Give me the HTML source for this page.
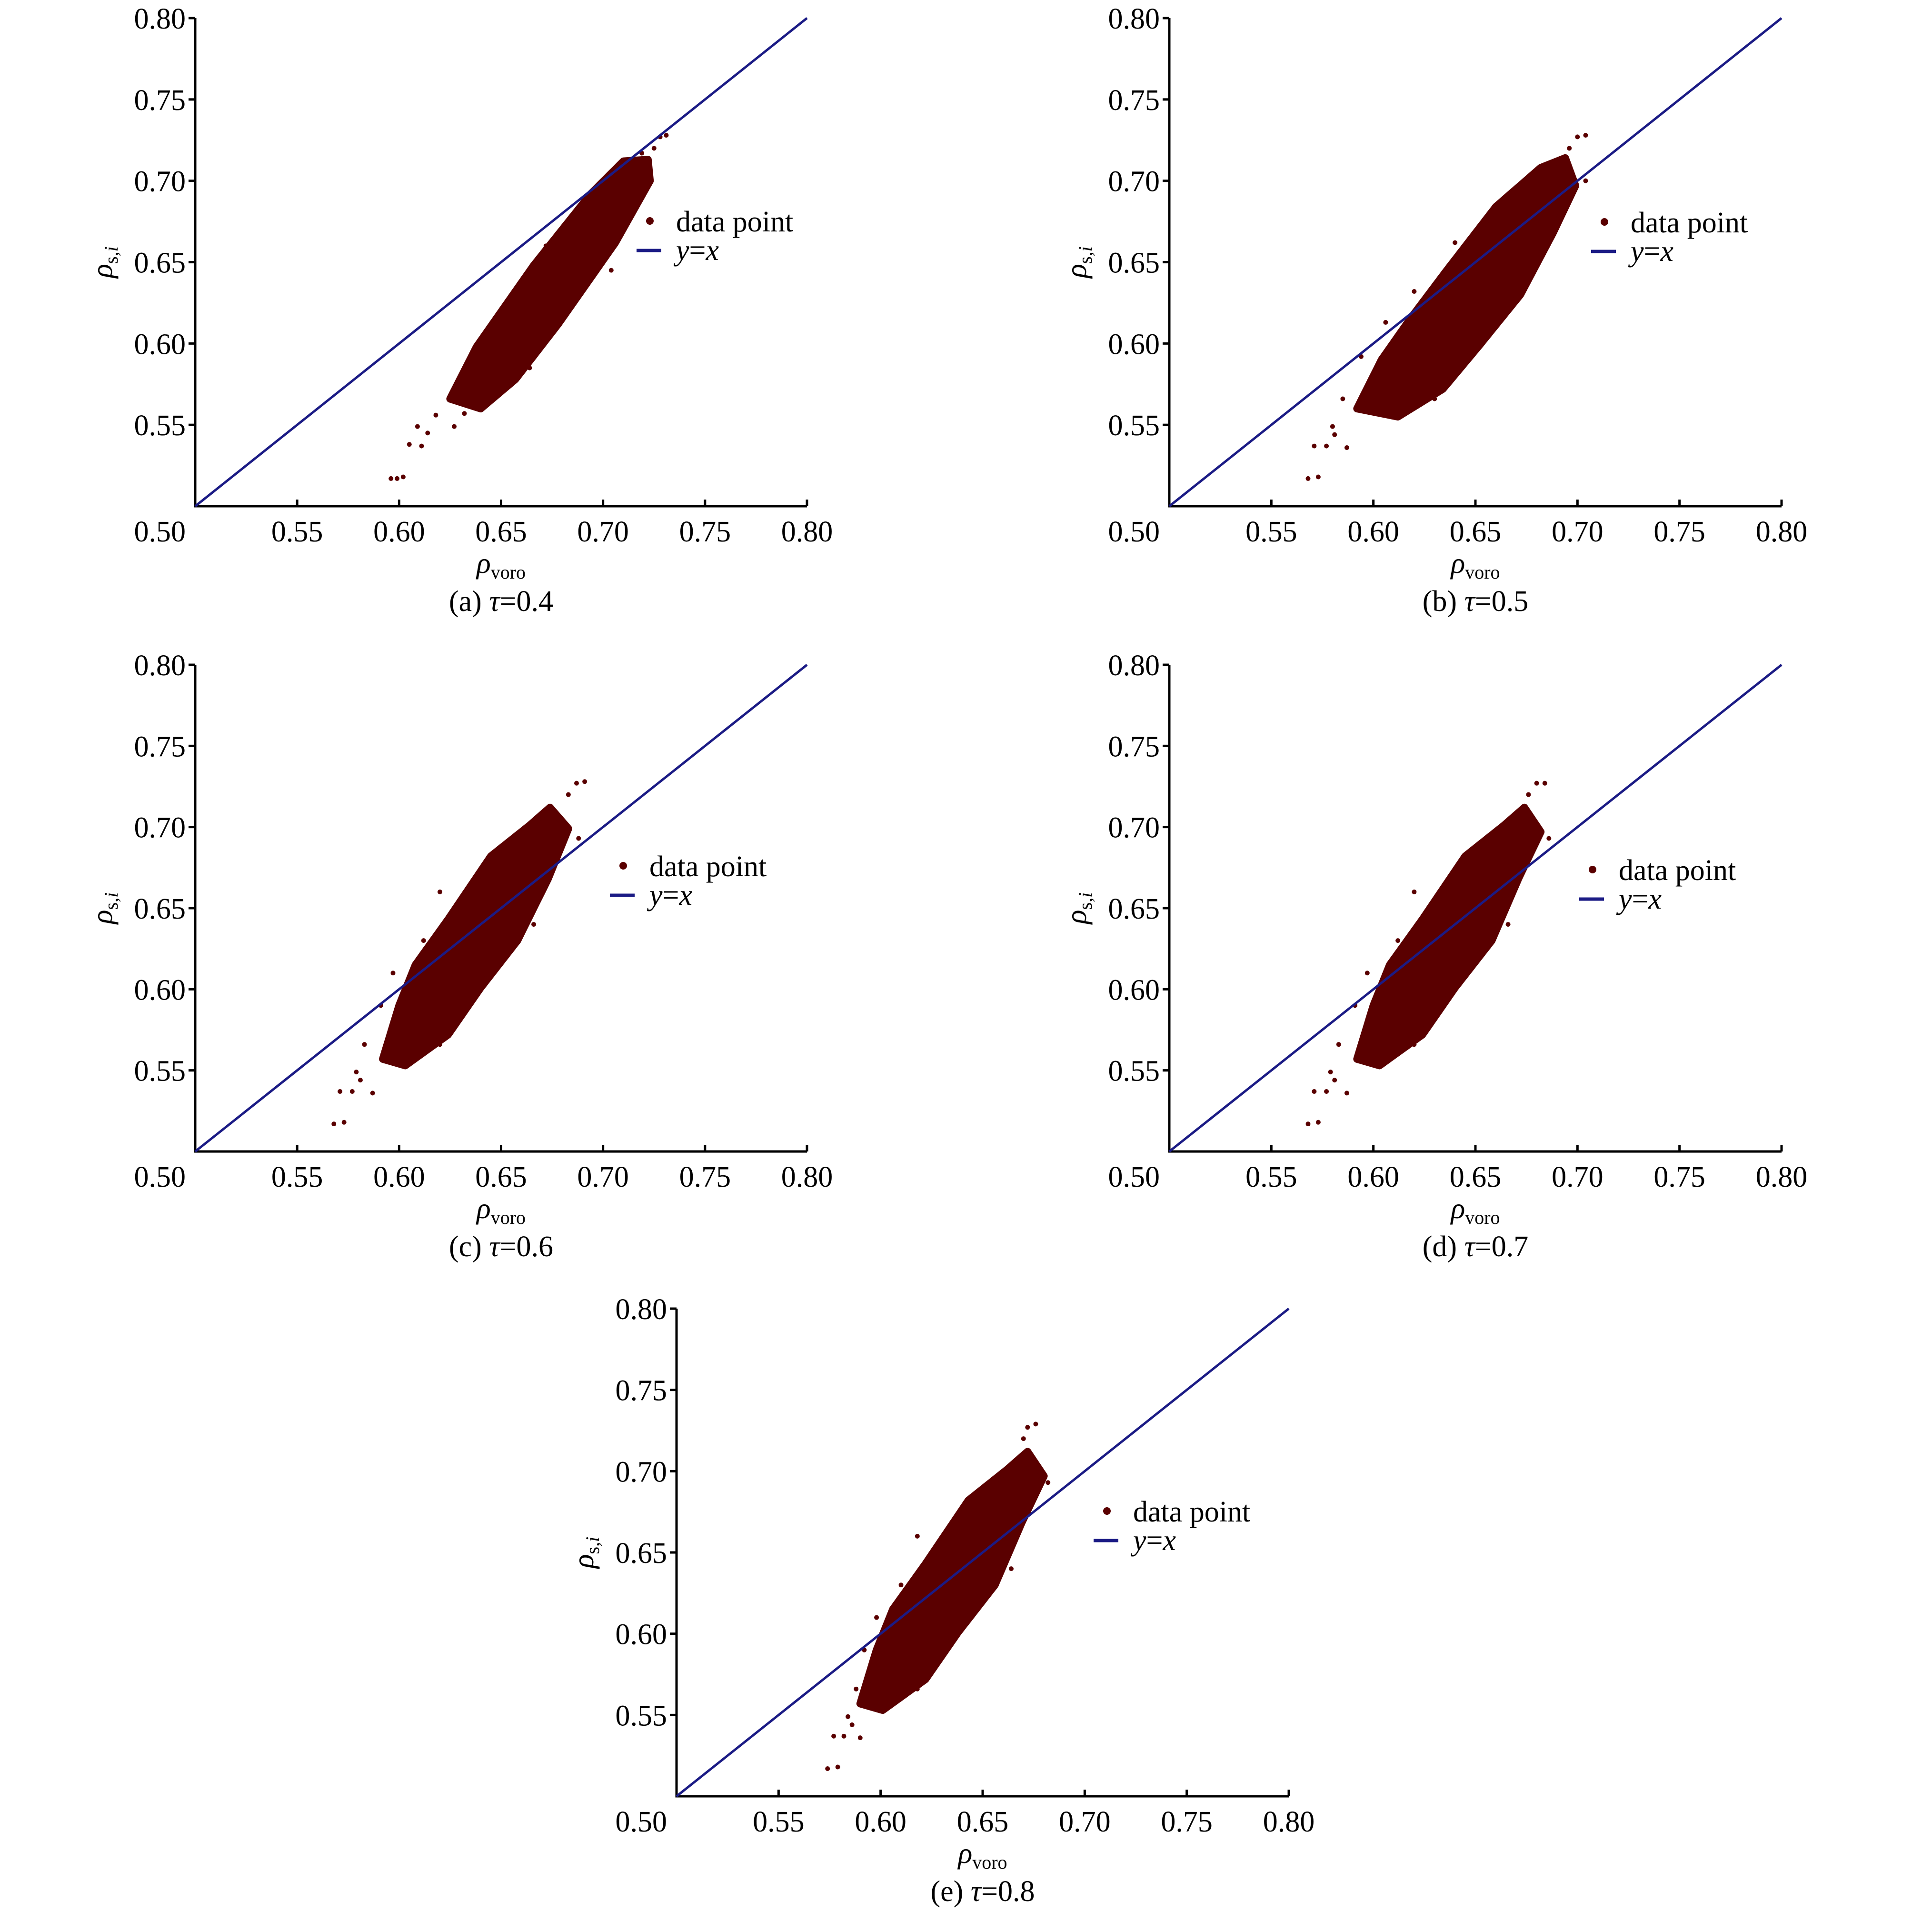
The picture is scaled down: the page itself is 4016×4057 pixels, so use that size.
<!DOCTYPE html>
<html><head><meta charset="utf-8"><style>
html,body{margin:0;padding:0;background:#fff;}
svg{display:block;}
text{font-family:"Liberation Serif",serif;fill:#000;}
</style></head><body>
<svg id="fig" width="4016" height="4057" viewBox="0 0 4016 4057" xmlns="http://www.w3.org/2000/svg"></svg>
<script>
const xTicks=[0.50,0.55,0.60,0.65,0.70,0.75,0.80];
const yTicks=[0.55,0.60,0.65,0.70,0.75,0.80];
const tickLabels=["0.50","0.55","0.60","0.65","0.70","0.75","0.80"];
const captions=["(a) ","(b) ","(c) ","(d) ","(e) "];
const tauValues=["0.4","0.5","0.6","0.7","0.8"];
const hullA=[[0.625,0.566],[0.638,0.598],[0.666,0.648],[0.694,0.692],[0.710,0.712],[0.722,0.713],[0.723,0.700],[0.706,0.662],[0.678,0.612],[0.657,0.578],[0.640,0.560]];
const outA=[[0.596,0.517],[0.599,0.517],[0.602,0.518],[0.605,0.538],[0.611,0.537],[0.609,0.549],[0.614,0.545],[0.618,0.556],[0.627,0.549],[0.632,0.557],[0.728,0.727],[0.731,0.728],[0.725,0.720],[0.719,0.717],[0.636,0.575],[0.650,0.610],[0.664,0.585],[0.704,0.645],[0.672,0.660],[0.640,0.595]];
const hullB=[[0.592,0.560],[0.604,0.590],[0.618,0.615],[0.636,0.645],[0.660,0.684],[0.682,0.708],[0.694,0.714],[0.699,0.697],[0.688,0.668],[0.672,0.630],[0.652,0.599],[0.634,0.572],[0.612,0.555]];
const outB=[[0.568,0.517],[0.573,0.518],[0.571,0.537],[0.577,0.537],[0.581,0.544],[0.587,0.536],[0.580,0.549],[0.585,0.566],[0.594,0.592],[0.606,0.613],[0.704,0.728],[0.700,0.727],[0.696,0.720],[0.704,0.700],[0.630,0.566],[0.640,0.662],[0.620,0.632],[0.676,0.650]];
const hullC=[[0.592,0.557],[0.600,0.590],[0.608,0.615],[0.624,0.643],[0.645,0.682],[0.664,0.701],[0.674,0.712],[0.683,0.699],[0.673,0.668],[0.658,0.630],[0.640,0.601],[0.624,0.572],[0.603,0.553]];
const outC=[[0.568,0.517],[0.573,0.518],[0.571,0.537],[0.577,0.537],[0.581,0.544],[0.587,0.536],[0.579,0.549],[0.583,0.566],[0.591,0.590],[0.597,0.610],[0.691,0.728],[0.687,0.727],[0.683,0.720],[0.688,0.693],[0.620,0.566],[0.620,0.660],[0.612,0.630],[0.666,0.640]];
const hullD=[[0.592,0.557],[0.600,0.590],[0.608,0.615],[0.624,0.643],[0.645,0.682],[0.664,0.701],[0.674,0.712],[0.682,0.697],[0.671,0.668],[0.658,0.630],[0.640,0.601],[0.624,0.572],[0.603,0.553]];
const outD=[[0.568,0.517],[0.573,0.518],[0.571,0.537],[0.577,0.537],[0.581,0.544],[0.587,0.536],[0.579,0.549],[0.583,0.566],[0.591,0.590],[0.597,0.610],[0.684,0.727],[0.680,0.727],[0.676,0.720],[0.686,0.693],[0.620,0.566],[0.620,0.660],[0.612,0.630],[0.666,0.640]];
const hullE=[[0.590,0.557],[0.598,0.590],[0.606,0.615],[0.622,0.643],[0.643,0.682],[0.662,0.701],[0.672,0.712],[0.680,0.697],[0.669,0.668],[0.656,0.630],[0.638,0.601],[0.622,0.572],[0.601,0.553]];
const outE=[[0.574,0.517],[0.579,0.518],[0.577,0.537],[0.582,0.537],[0.586,0.544],[0.590,0.536],[0.584,0.549],[0.588,0.566],[0.592,0.590],[0.598,0.610],[0.676,0.729],[0.672,0.727],[0.670,0.720],[0.682,0.693],[0.618,0.566],[0.618,0.660],[0.610,0.630],[0.664,0.640]];
const hulls=[hullA,hullB,hullC,hullD,hullE];
const outliers=[outA,outB,outC,outD,outE];
const lineStart=[0.5,0.5], lineEnd=[0.8,0.8];

const layout=[
 {x0:410,x1:1695,yb:1063,yt:38,lx:1365,ly:464},
 {x0:2456,x1:3742,yb:1063,yt:38,lx:3370,ly:466},
 {x0:410,x1:1695,yb:2418,yt:1396,lx:1309,ly:1818},
 {x0:2456,x1:3742,yb:2418,yt:1396,lx:3345,ly:1826},
 {x0:1421,x1:2707,yb:3772,yt:2748,lx:2325,ly:3173}
];
const NS="http://www.w3.org/2000/svg";
const svg=document.getElementById('fig');
function mk(tag,attrs,parent){const e=document.createElementNS(NS,tag);for(const k in attrs)e.setAttribute(k,attrs[k]);parent.appendChild(e);return e;}
const dark="#5a0000", navy="#1b1b85";
const FS=62;
layout.forEach((L,i)=>{
  const g=mk('g',{},svg);
  
  
  const sx=v=>L.x0+(v-0.5)/0.3*(L.x1-L.x0);
  const sy=v=>L.yb-(v-0.5)/0.3*(L.yb-L.yt);
  const ax=mk('path',{d:`M${L.x0},${L.yt} L${L.x0},${L.yb} L${L.x1},${L.yb}`,fill:'none',stroke:'#000','stroke-width':5},g);
  
  
  yTicks.forEach(t=>{mk('line',{x1:L.x0-14,x2:L.x0,y1:sy(t),y2:sy(t),stroke:'#000','stroke-width':5},g);});
  xTicks.forEach(t=>{if(t>0.5)mk('line',{x1:sx(t),x2:sx(t),y1:L.yb-14,y2:L.yb,stroke:'#000','stroke-width':5},g);});
  yTicks.forEach(t=>{const tx=mk('text',{x:L.x0-20,y:sy(t)+22,'text-anchor':'end','font-size':FS},g);tx.textContent=tickLabels[xTicks.indexOf(t)];
    
    });
  xTicks.forEach((t,j)=>{const tx=mk('text',{x:t===0.5?sx(t)-20:sx(t),y:L.yb+74,'text-anchor':t===0.5?'end':'middle','font-size':FS},g);tx.textContent=tickLabels[j];
    
    });
  const mx=(L.x0+L.x1)/2, my=(L.yb+L.yt)/2;
  const xl=mk('text',{x:mx,y:L.yb+140,'text-anchor':'middle','font-size':FS},g);
  
  
  xl.innerHTML='<tspan font-style="italic">ρ</tspan><tspan font-size="40" dy="12">voro</tspan>';
  const yl=mk('text',{x:0,y:0,'text-anchor':'middle','font-size':FS,transform:`translate(${L.x0-175},${my}) rotate(-90)`},g);
  
  
  yl.innerHTML='<tspan font-style="italic">ρ</tspan><tspan font-size="40" dy="12">s,</tspan><tspan font-size="40" font-style="italic">i</tspan>';
  const cap=mk('text',{x:mx,y:L.yb+220,'text-anchor':'middle','font-size':FS},g);
  
  
  cap.innerHTML=captions[i]+'<tspan font-style="italic">τ</tspan>='+tauValues[i];
  const hp=mk('polygon',{points:hulls[i].map(p=>sx(p[0])+','+sy(p[1])).join(' '),fill:dark,stroke:dark,'stroke-width':16,'stroke-linejoin':'round'},g);
  
  
  outliers[i].forEach(p=>{const c=mk('circle',{cx:sx(p[0]),cy:sy(p[1]),r:5,fill:dark},g);
    
    });
  const dl=mk('line',{x1:sx(lineStart[0]),y1:sy(lineStart[1]),x2:sx(lineEnd[0]),y2:sy(lineEnd[1]),stroke:navy,'stroke-width':5},g);
  
  
  const lg=mk('g',{},g);
  
  
  mk('circle',{cx:L.lx,cy:L.ly,r:8,fill:dark},lg);
  const t1=mk('text',{x:L.lx+55,y:L.ly+22,'font-size':FS},lg);t1.textContent='data point';
  
  
  mk('line',{x1:L.lx-28,x2:L.lx+24,y1:L.ly+62,y2:L.ly+62,stroke:navy,'stroke-width':7},lg);
  const t2=mk('text',{x:L.lx+55,y:L.ly+82,'font-size':FS,'font-style':'italic'},lg);
  t2.innerHTML='y<tspan font-style="normal">=</tspan>x';
  
  
});
</script>
</body></html>
